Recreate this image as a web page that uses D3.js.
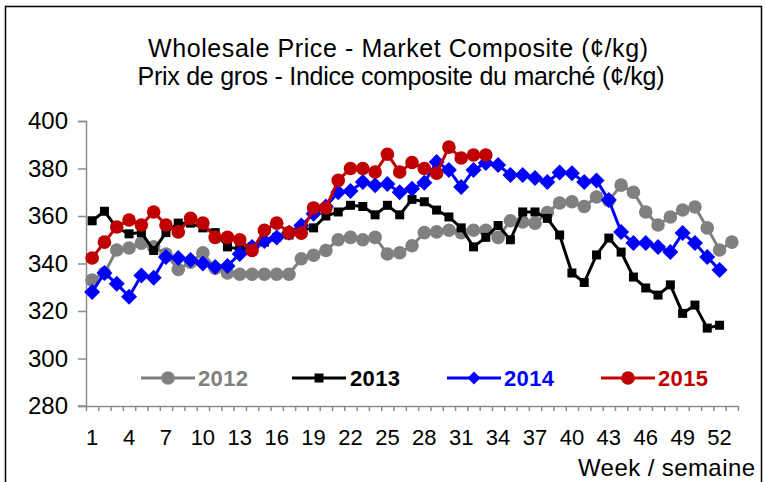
<!DOCTYPE html>
<html>
  <head>
    <script src="https://d3js.org/d3.v7.min.js"></script>
    <style>
      body { margin: 0; background: #fff; }
      text { font-family: "Liberation Sans", Arial, sans-serif; }
    </style>
  </head>
  <body>
    <div id="chart"></div>
    <script>
      const weeks = d3.range(1, 54);
      const tickWeeks = [1, 4, 7, 10, 13, 16, 19, 22, 25, 28, 31, 34, 37, 40, 43, 46, 49, 52];
      const yTicks = [280, 300, 320, 340, 360, 380, 400];

      const y2012 = [333, 336, 345.7, 346.5, 348.6, 347, 344, 337.5, 340.5, 344.5,
        338, 336, 335.5, 335.5, 335.5, 335.5, 335.5, 342, 343.5, 345.5,
        350, 351, 350, 351, 344, 344.5, 347.5, 353, 353.3, 354,
        353, 354, 354, 351, 358, 357.5, 357, 361.5, 365.5, 366,
        364, 368, 366.5, 373, 370, 361.7, 356.2, 359.6, 362.5, 363.8,
        355, 345.7, 349];
      const y2013 = [358, 362, 355, 352.5, 353, 345.5, 353, 357, 357, 355,
        353, 347, 346, 347, 349, 351, 352, 354, 355, 360,
        361.7, 364.5, 364, 360.5, 364.5, 360.5, 367, 366, 362.5, 359.6,
        355, 347, 351, 356, 350, 361.7, 361.7, 359, 352, 336,
        332, 343.6, 350.7, 344.8, 334.3, 329.7, 326.7, 331, 319, 322.5,
        312.8, 314];
      const y2014 = [328, 336, 331.5, 326, 335, 334, 342.7, 342.3, 341.5, 340,
        338.5, 339, 344, 347, 349.5, 351, 353, 356, 361, 364,
        370, 370.5, 374.3, 373, 373.5, 370, 371.5, 374, 382.7, 379.4,
        372.2, 379.4, 382.3, 381.5, 377.3, 377.3, 376, 374.3, 378.3, 378,
        374.3, 375, 366.7, 353.3, 348.6, 348.6, 347, 344.8, 352.8, 348.6,
        342.7, 337.3];
      const y2015 = [342.3, 349, 355.4, 358.3, 356.2, 361.7, 356.2, 353.3, 359, 357,
        351, 351, 350, 345.5, 354, 357, 353, 352.8, 363.4, 363.4,
        375, 380, 380, 378.5, 386, 378.5, 382.5, 380, 378, 389,
        384.4, 385.7, 385.7];

      const series = [
        { name: "2012", values: y2012, color: "#808080", marker: "circle" },
        { name: "2013", values: y2013, color: "#000000", marker: "square" },
        { name: "2014", values: y2014, color: "#0000ff", marker: "diamond" },
        { name: "2015", values: y2015, color: "#c00000", marker: "circle" },
      ];

      const width = 765;
      const height = 482;
      const svg = d3.select("#chart").append("svg")
        .attr("width", width)
        .attr("height", height);

      // outer frame
      svg.append("rect")
        .attr("x", 5.5).attr("y", 6.5)
        .attr("width", 756).attr("height", 490)
        .attr("fill", "none").attr("stroke", "#000").attr("stroke-width", 1.5);

      const x = d3.scaleLinear().domain([0.5, 53.5]).range([86, 738]);
      const y = d3.scaleLinear().domain([280, 400]).range([406, 121]);

      const axisColor = "#8c8c8c";

      // y axis
      const yAxis = svg.append("g")
        .attr("transform", "translate(86,0)")
        .call(d3.axisLeft(y).tickValues(yTicks).tickSize(8).tickPadding(10));
      yAxis.select(".domain").attr("stroke", axisColor).attr("stroke-width", 1.5);
      yAxis.selectAll(".tick line").attr("stroke", axisColor).attr("stroke-width", 1.5);
      yAxis.selectAll(".tick text")
        .attr("font-size", 24).attr("fill", "#000")
        .style("font-family", "Liberation Sans, Arial, sans-serif");

      // x axis: minor ticks at category boundaries, labels every 3 weeks
      const xAxis = svg.append("g")
        .attr("transform", "translate(0,406)")
        .call(d3.axisBottom(x).tickValues(d3.range(0.5, 54, 1)).tickSize(5).tickSizeOuter(0).tickFormat(""));
      xAxis.select(".domain").attr("stroke", axisColor).attr("stroke-width", 1.5);
      xAxis.selectAll(".tick line").attr("stroke", axisColor).attr("stroke-width", 1.5);
      svg.append("line")
        .attr("x1", 78).attr("x2", 86).attr("y1", 406).attr("y2", 406)
        .attr("stroke", axisColor).attr("stroke-width", 1.5);

      svg.append("g").selectAll("text")
        .data(tickWeeks)
        .join("text")
        .attr("x", d => x(d))
        .attr("y", 445)
        .attr("text-anchor", "middle")
        .attr("font-size", 22)
        .text(d => d);

      svg.append("text")
        .attr("x", 755).attr("y", 476)
        .attr("text-anchor", "end")
        .attr("font-size", 24)
        .attr("textLength", 177)
        .text("Week / semaine");

      // title
      svg.append("text")
        .attr("x", 398).attr("y", 57)
        .attr("text-anchor", "middle")
        .attr("font-size", 25)
        .attr("textLength", 500)
        .text("Wholesale Price - Market Composite (¢/kg)");
      svg.append("text")
        .attr("x", 401).attr("y", 85)
        .attr("text-anchor", "middle")
        .attr("font-size", 25)
        .attr("textLength", 527)
        .text("Prix de gros - Indice composite du marché (¢/kg)");

      function drawMarker(g, type, color, cx, cy, scale) {
        const k = scale || 1;
        if (type === "circle") {
          g.append("circle").attr("cx", cx).attr("cy", cy).attr("r", 6.8 * k).attr("fill", color);
        } else if (type === "square") {
          g.append("rect").attr("x", cx - 4.5 * k).attr("y", cy - 4.5 * k)
            .attr("width", 9 * k).attr("height", 9 * k).attr("fill", color);
        } else {
          const s = 8 * k;
          g.append("path")
            .attr("d", `M${cx},${cy - s}L${cx + s},${cy}L${cx},${cy + s}L${cx - s},${cy}Z`)
            .attr("fill", color);
        }
      }

      const line = d3.line()
        .x((d, i) => x(weeks[i]))
        .y(d => y(d));

      series.forEach(s => {
        const g = svg.append("g");
        g.append("path")
          .datum(s.values)
          .attr("d", line)
          .attr("fill", "none")
          .attr("stroke", s.color)
          .attr("stroke-width", 3);
        s.values.forEach((v, i) => drawMarker(g, s.marker, s.color, x(weeks[i]), y(v)));
      });

      // legend
      const legendItems = [
        { s: series[0], x0: 141, tx: 198 },
        { s: series[1], x0: 292, tx: 350 },
        { s: series[2], x0: 447, tx: 504 },
        { s: series[3], x0: 601, tx: 658 },
      ];
      const ly = 378;
      legendItems.forEach(d => {
        const g = svg.append("g");
        g.append("line")
          .attr("x1", d.x0).attr("x2", d.x0 + 54)
          .attr("y1", ly).attr("y2", ly)
          .attr("stroke", d.s.color).attr("stroke-width", 3);
        drawMarker(g, d.s.marker, d.s.color, d.x0 + 27, ly, d.s.marker === "diamond" ? 0.8 : 1);
        g.append("text")
          .attr("x", d.tx).attr("y", ly + 8)
          .attr("font-size", 22).attr("font-weight", "bold")
          .attr("fill", d.s.color)
          .attr("textLength", 50)
          .text(d.s.name);
      });
    </script>
  </body>
</html>
